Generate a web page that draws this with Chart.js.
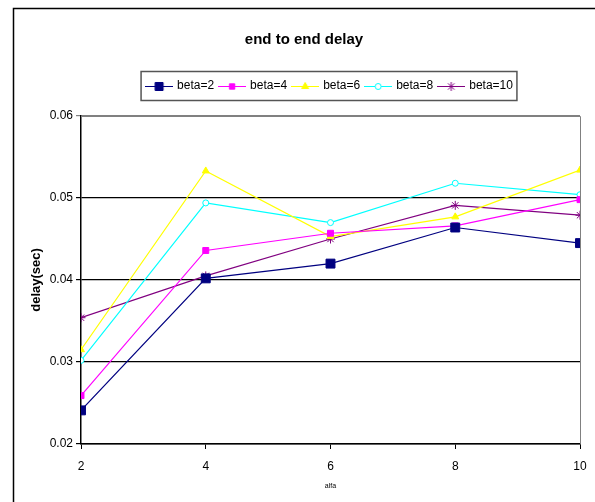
<!DOCTYPE html>
<html>
<head>
<meta charset="utf-8">
<script src="https://cdn.jsdelivr.net/npm/chart.js@4/dist/chart.umd.min.js"></script>
<style>
  html, body { margin: 0; padding: 0; background: #fff; }
  #wrap { width: 595px; height: 502px; position: relative; }
</style>
</head>
<body>
<div id="wrap"><canvas id="chart" width="595" height="502"></canvas></div>
<script>
const alfa = [2, 4, 6, 8, 10];
const beta2 = [0.0241, 0.0402, 0.0420, 0.0464, 0.0445];
const beta4 = [0.0259, 0.0436, 0.0457, 0.0466, 0.0498];
const beta6 = [0.0315, 0.0533, 0.0453, 0.0477, 0.0534];
const beta8 = [0.0302, 0.0494, 0.0470, 0.0518, 0.0504];
const beta10 = [0.0354, 0.0405, 0.0450, 0.0491, 0.0479];
const yTicks = [0.02, 0.03, 0.04, 0.05, 0.06];

const FONT = "'Liberation Sans', Arial, sans-serif";
const LEGEND_SHIFT = 26;
const LEGEND_EXTRA = 14;

function toPoints(values) {
  return values.map((v, i) => ({ x: alfa[i], y: v }));
}

// small canvas: line with the marker in the middle, for the legend
function legendIcon(color, style, radius) {
  const c = document.createElement("canvas");
  c.width = 28;
  c.height = 14;
  const ctx = c.getContext("2d");
  ctx.strokeStyle = color;
  ctx.lineWidth = 1;
  ctx.beginPath();
  ctx.moveTo(0, 7.5);
  ctx.lineTo(28, 7.5);
  ctx.stroke();
  ctx.fillStyle = style === "circle" ? "#ffffff" : color;
  Chart.helpers.drawPoint(ctx, {
    pointStyle: style,
    radius: radius,
    borderWidth: 1,
    rotation: 0,
  }, 14, 7.5);
  return c;
}

function series(label, values, color, style, radius) {
  return {
    label,
    data: toPoints(values),
    borderColor: color,
    backgroundColor: style === "circle" ? "#ffffff" : color,
    pointBorderColor: color,
    pointBackgroundColor: style === "circle" ? "#ffffff" : color,
    pointStyle: style,
    pointRadius: radius,
    pointBorderWidth: 1,
    borderWidth: 1.2,
    tension: 0,
    icon: { style, radius, color },
  };
}

const datasets = [
  series("beta=2", beta2, "#000080", "rect", 6.3),
  series("beta=4", beta4, "#ff00ff", "rect", 4.2),
  series("beta=6", beta6, "#ffff00", "triangle", 4),
  series("beta=8", beta8, "#00ffff", "circle", 3),
  series("beta=10", beta10, "#800080", "star", 4.5),
];

const frame = {
  id: "frame",
  beforeLayout(chart) {
    const legend = chart.legend;
    if (legend && !legend._padded) {
      const fit = legend.fit;
      legend.fit = function () {
        fit.call(this);
        this.height += LEGEND_EXTRA;
      };
      legend._padded = true;
    }
  },
  afterLayout(chart) {
    chart.legend.left += LEGEND_SHIFT;
    chart.legend.right += LEGEND_SHIFT;
  },
  beforeDraw(chart) {
    const ctx = chart.ctx;
    ctx.save();
    ctx.fillStyle = "#fff";
    ctx.fillRect(0, 0, chart.width, chart.height);
    ctx.strokeStyle = "#000";
    ctx.lineWidth = 1.5;
    ctx.beginPath();
    ctx.moveTo(13.5, chart.height);
    ctx.lineTo(13.5, 8.5);
    ctx.lineTo(chart.width, 8.5);
    ctx.stroke();
    ctx.restore();
  },
  afterDatasetsDraw(chart) {
    const { ctx, chartArea } = chart;
    ctx.save();
    ctx.strokeStyle = "#808080";
    ctx.lineWidth = 1;
    ctx.beginPath();
    ctx.moveTo(chartArea.left, chartArea.top + 0.5);
    ctx.lineTo(chartArea.right + 0.5, chartArea.top + 0.5);
    ctx.lineTo(chartArea.right + 0.5, chartArea.bottom);
    ctx.stroke();
    ctx.restore();
  },
  afterDraw(chart) {
    const boxes = chart.legend.legendHitBoxes;
    if (!boxes || !boxes.length) return;
    const ctx = chart.ctx;
    const first = boxes[0];
    const last = boxes[boxes.length - 1];
    const cy = first.top + first.height / 2;
    ctx.save();
    ctx.strokeStyle = "#555";
    ctx.lineWidth = 1.5;
    ctx.strokeRect(first.left - 6, cy - 14.5, last.left + last.width - first.left + 10, 29);
    ctx.restore();
  },
};

new Chart(document.getElementById("chart"), {
  type: "line",
  data: { datasets },
  plugins: [frame],
  options: {
    responsive: false,
    animation: false,
    layout: { padding: { top: 28, right: 15, left: 28, bottom: 0 } },
    plugins: {
      title: {
        display: true,
        text: "end to end delay",
        color: "#000",
        font: { family: FONT, size: 15, weight: "bold" },
        padding: { top: 3, bottom: 25 },
      },
      legend: {
        display: true,
        labels: {
          color: "#000",
          font: { family: FONT, size: 12 },
          usePointStyle: true,
          pointStyleWidth: 24,
          padding: 6,
          generateLabels(chart) {
            return chart.data.datasets.map((ds, i) => ({
              text: ds.label,
              fontColor: "#000",
              pointStyle: legendIcon(ds.icon.color, ds.icon.style, ds.icon.style === "rect" ? ds.icon.radius * 0.9 : ds.icon.radius),
              hidden: false,
              datasetIndex: i,
              lineWidth: 0,
              strokeStyle: ds.borderColor,
              fillStyle: ds.backgroundColor,
            }));
          },
        },
      },
      tooltip: { enabled: false },
    },
    scales: {
      x: {
        type: "linear",
        min: 2,
        max: 10,
        afterBuildTicks(scale) {
          scale.ticks = alfa.map((v) => ({ value: v }));
        },
        afterFit(scale) {
          scale.height = 58;
          scale.paddingLeft = 0;
          scale.paddingRight = 0;
        },
        grid: {
          drawOnChartArea: false,
          drawTicks: true,
          tickLength: 5,
          color: "#000",
        },
        border: { color: "#000", width: 1.5 },
        ticks: {
          color: "#000",
          font: { family: FONT, size: 12 },
          padding: 10,
          maxRotation: 0,
        },
        title: {
          display: true,
          text: "alfa",
          color: "#000",
          font: { family: FONT, size: 7 },
          padding: { top: 0, bottom: 12 },
        },
      },
      y: {
        min: 0.02,
        max: 0.06,
        afterBuildTicks(scale) {
          scale.ticks = yTicks.map((v) => ({ value: v }));
        },
        afterFit(scale) { scale.width = 53; },
        grid: {
          color: (c) => (c.tick && c.tick.value === 0.06 ? "#808080" : "#000"),
          lineWidth: 1.2,
          drawTicks: true,
          tickLength: 5,
        },
        border: { color: "#000", width: 1.5 },
        ticks: {
          color: "#000",
          font: { family: FONT, size: 12 },
          padding: 3,
          callback: (v) => v.toFixed(2),
        },
        title: {
          display: true,
          text: "delay(sec)",
          color: "#000",
          font: { family: FONT, size: 13, weight: "bold" },
          padding: { top: 1, bottom: 0 },
        },
      },
    },
  },
});
</script>
</body>
</html>
